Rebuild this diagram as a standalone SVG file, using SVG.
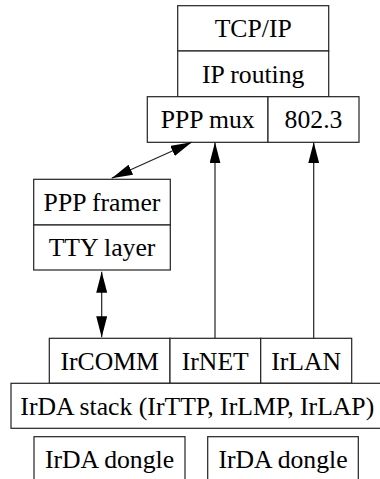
<svg xmlns="http://www.w3.org/2000/svg" width="380" height="479" viewBox="0 0 380 479">
  <style>
    .box { fill: #fff; stroke: #222; stroke-width: 1.2; }
    .lbl { font-family: "Liberation Serif", "Times New Roman", serif; font-size: 25.7px; fill: #000; text-anchor: middle; }
    .link { stroke: #222; stroke-width: 1.2; fill: none; }
  </style>
  <defs>
    <marker id="head" markerUnits="userSpaceOnUse" markerWidth="21" markerHeight="11" refX="21" refY="5.5" orient="auto-start-reverse" viewBox="0 0 21 11">
      <path d="M0,0 L21,5.5 L0,11 z" fill="#000"/>
    </marker>
  </defs>
  <rect width="380" height="479" fill="#fff"/>

  <g id="tcpip">
    <rect class="box" x="177.7" y="5.7" width="151" height="45.3"/>
    <text class="lbl" x="253.2" y="37">TCP/IP</text>
  </g>
  <g id="iprouting">
    <rect class="box" x="177.7" y="51" width="151" height="45.7"/>
    <text class="lbl" x="253.2" y="82.5">IP routing</text>
  </g>
  <g id="pppmux">
    <rect class="box" x="147.3" y="96.7" width="120.7" height="45.6"/>
    <text class="lbl" x="207.7" y="128.2">PPP mux</text>
  </g>
  <g id="ieee8023">
    <rect class="box" x="268" y="96.7" width="91" height="45.6"/>
    <text class="lbl" x="313.5" y="128.2">802.3</text>
  </g>
  <g id="pppframer">
    <rect class="box" x="33.7" y="179.3" width="136.6" height="45.7"/>
    <text class="lbl" x="102" y="210.8">PPP framer</text>
  </g>
  <g id="ttylayer">
    <rect class="box" x="33.7" y="225" width="136.6" height="45"/>
    <text class="lbl" x="102" y="256.2">TTY layer</text>
  </g>
  <g id="ircomm">
    <rect class="box" x="49.3" y="338.3" width="120.7" height="45"/>
    <text class="lbl" x="109.7" y="369.5">IrCOMM</text>
  </g>
  <g id="irnet">
    <rect class="box" x="170" y="338.3" width="90.7" height="45"/>
    <text class="lbl" x="215.3" y="369.5">IrNET</text>
  </g>
  <g id="irlan">
    <rect class="box" x="260.7" y="338.3" width="91" height="45"/>
    <text class="lbl" x="306.2" y="369.5">IrLAN</text>
  </g>
  <g id="irdastack">
    <rect class="box" x="11" y="383.3" width="380" height="45"/>
    <text class="lbl" x="197.3" y="414.5">IrDA stack (IrTTP, IrLMP, IrLAP)</text>
  </g>
  <g id="dongle1">
    <rect class="box" x="34" y="436.7" width="151" height="50"/>
    <text class="lbl" x="109.5" y="468.2">IrDA dongle</text>
  </g>
  <g id="dongle2">
    <rect class="box" x="207.7" y="436.7" width="150.6" height="50"/>
    <text class="lbl" x="283" y="468.2">IrDA dongle</text>
  </g>

  <g id="connectors">
    <line class="link" x1="111.7" y1="178.3" x2="191.7" y2="142.3" marker-start="url(#head)" marker-end="url(#head)"/>
    <line class="link" x1="101.7" y1="271.7" x2="101.7" y2="337.3" marker-start="url(#head)" marker-end="url(#head)"/>
    <line class="link" x1="215" y1="338.3" x2="215" y2="142.3" marker-end="url(#head)"/>
    <line class="link" x1="313.7" y1="338.3" x2="313.7" y2="142.3" marker-end="url(#head)"/>
  </g>
</svg>
